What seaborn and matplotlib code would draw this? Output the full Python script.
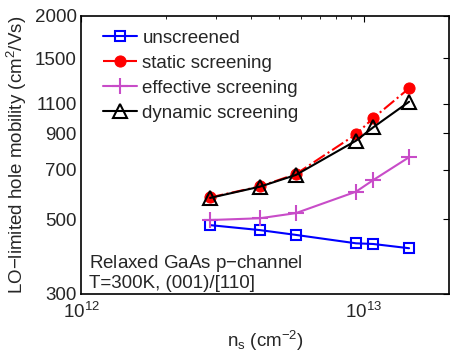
import numpy as np
import pandas as pd
import matplotlib
matplotlib.use("Agg")
import matplotlib.pyplot as plt
import seaborn as sns
from matplotlib.ticker import FixedLocator, FixedFormatter, LogLocator, NullLocator, NullFormatter

# ---- data ----
ns = [2.86e12, 4.29e12, 5.75e12, 9.38e12, 1.08e13, 1.445e13]
unscreened = [480, 464, 449, 424, 422, 410]
static_scr = [580, 625, 680, 892, 997, 1221]
effective_scr = [497, 503, 521, 603, 653, 763]
dynamic_scr = [578, 624, 676, 854, 936, 1114]

yticks = [300, 500, 700, 900, 1100, 1500, 2000]
xticks = [1e12, 1e13]
xticklabels = [r"$10^{12}$", r"$10^{13}$"]

sns.set_theme(style="white")
plt.rcParams["font.family"] = ["Liberation Sans", "DejaVu Sans"]
plt.rcParams["mathtext.fontset"] = "custom"
plt.rcParams["mathtext.rm"] = "Liberation Sans"
plt.rcParams["mathtext.it"] = "Liberation Sans:italic"
plt.rcParams["mathtext.bf"] = "Liberation Sans:bold"
plt.rcParams["mathtext.default"] = "regular"

TXT = "#262626"
FS = 13.5

fig = plt.figure(figsize=(4.5, 3.54), dpi=100)
ax = fig.add_axes([81/450, (354-294)/354, 368/450, 278/354])

sns.lineplot(x=ns, y=unscreened, ax=ax, color="#0000ff", lw=1.5, marker="s",
             markersize=7, markerfacecolor="none", markeredgecolor="#0000ff",
             markeredgewidth=1.5, label="unscreened", sort=False)
sns.lineplot(x=ns, y=static_scr, ax=ax, color="#ff0000", lw=1.5, linestyle="-.",
             marker="o", markersize=8, markerfacecolor="#ff0000",
             markeredgecolor="#ff0000", label="static screening", sort=False)
sns.lineplot(x=ns, y=effective_scr, ax=ax, color="#c84cc8", lw=1.5, marker="+",
             markersize=11, markeredgewidth=1.5, markeredgecolor="#c84cc8",
             label="effective screening", sort=False)
sns.lineplot(x=ns, y=dynamic_scr, ax=ax, color="black", lw=1.5, marker="^",
             markersize=10, markerfacecolor="none", markeredgecolor="black",
             markeredgewidth=1.5, label="dynamic screening", sort=False)

ax.set_xscale("log")
ax.set_yscale("log")
ax.set_xlim(1e12, 2e13)
ax.set_ylim(300, 2000)

ax.yaxis.set_major_locator(FixedLocator(yticks))
ax.yaxis.set_major_formatter(FixedFormatter([str(v) for v in yticks]))
ax.yaxis.set_minor_locator(NullLocator())
ax.xaxis.set_major_locator(FixedLocator(xticks))
ax.xaxis.set_major_formatter(FixedFormatter(xticklabels))
ax.xaxis.set_minor_locator(LogLocator(base=10, subs=np.arange(2, 10)))
ax.xaxis.set_minor_formatter(NullFormatter())

ax.tick_params(axis="both", which="both", direction="in", top=True, right=True,
               colors="black", labelcolor=TXT, labelsize=FS)
ax.tick_params(axis="both", which="major", length=4, width=0.8)
ax.tick_params(axis="x", which="minor", length=2.5, width=0.6)
ax.tick_params(axis="y", which="major", pad=3)
ax.tick_params(axis="x", which="major", pad=6)

for s in ax.spines.values():
    s.set_color("black")
    s.set_linewidth(1.2)

ax.set_ylabel(r"LO$-$limited hole mobility (cm$^2$/Vs)", fontsize=FS, color=TXT)
ax.set_xlabel(r"n$_s$ (cm$^{-2}$)", fontsize=FS, color=TXT)
ax.yaxis.set_label_coords(-0.142, 0.5)
ax.xaxis.set_label_coords(0.5, -0.125)

ax.text(0.0226, 0.0924, r"Relaxed GaAs p$-$channel", transform=ax.transAxes,
        fontsize=FS, color=TXT, va="baseline", ha="left")
ax.text(0.0226, 0.0205, "T=300K, (001)/[110]", transform=ax.transAxes,
        fontsize=FS, color=TXT, va="baseline", ha="left")

leg = ax.legend(loc="upper left", bbox_to_anchor=(0.06, 0.95), frameon=False,
                fontsize=FS, borderpad=0, borderaxespad=0, handlelength=1.8,
                handletextpad=0.3, labelspacing=0.42, numpoints=1)
for t in leg.get_texts():
    t.set_color(TXT)

fig.savefig("out.png", dpi=100)
